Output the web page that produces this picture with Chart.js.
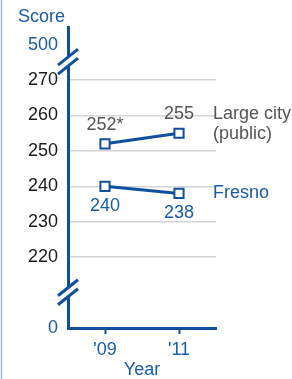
<!DOCTYPE html>
<html>
<head>
<meta charset="utf-8">
<script src="https://cdn.jsdelivr.net/npm/chart.js@4/dist/chart.umd.min.js"></script>
<style>
    html, body { margin: 0; padding: 0; background: #fff; }
    canvas { display: block; }
</style>
</head>
<body>
<canvas id="myChart" width="292" height="379"></canvas>
<script>
// données
const years = ["'09", "'11"];
const largeCity = [252, 255];
const largeCityNotes = ['*', ''];
const fresno = [240, 238];
const yTicks = [200, 220, 230, 240, 250, 260, 270, 280];
const yTickLabels = ['0', '220', '230', '240', '250', '260', '270', '500'];

const BLUE = '#0f4f9e';
const TEXT_BLUE = '#1a5ca8';
const GREY = '#555555';
const FONT = "'Liberation Sans', Arial, sans-serif";

const decorPlugin = {
    id: 'decor',
    afterDraw(chart) {
        const ctx = chart.ctx;
        const area = chart.chartArea;
        const y = chart.scales.y;
        ctx.save();

        // cadre à gauche
        ctx.strokeStyle = '#9db6d6';
        ctx.lineWidth = 1.5;
        ctx.beginPath();
        ctx.moveTo(1.5, 0);
        ctx.lineTo(1.5, chart.height);
        ctx.stroke();

        // titre "Score"
        ctx.font = '18px ' + FONT;
        ctx.fillStyle = TEXT_BLUE;
        ctx.textAlign = 'right';
        ctx.textBaseline = 'middle';
        ctx.fillText('Score', 65, 17);

        // coupures de l'axe
        [275.2, 210.1].forEach(v => {
            const cx = area.left;
            const cy = y.getPixelForValue(v);
            const dx = 10, dy = 8, gap = 4.5;
            ctx.fillStyle = '#fff';
            ctx.beginPath();
            ctx.moveTo(cx - dx, cy - gap + dy);
            ctx.lineTo(cx + dx, cy - gap - dy);
            ctx.lineTo(cx + dx, cy + gap - dy);
            ctx.lineTo(cx - dx, cy + gap + dy);
            ctx.closePath();
            ctx.fill();
            ctx.strokeStyle = BLUE;
            ctx.lineWidth = 3;
            [-gap, gap].forEach(g => {
                ctx.beginPath();
                ctx.moveTo(cx - dx, cy + g + dy);
                ctx.lineTo(cx + dx, cy + g - dy);
                ctx.stroke();
            });
        });

        // étiquettes des valeurs
        ctx.textAlign = 'center';
        const lc = chart.getDatasetMeta(0).data;
        const fr = chart.getDatasetMeta(1).data;
        lc.forEach((pt, i) => {
            ctx.fillStyle = GREY;
            ctx.fillText(largeCity[i] + largeCityNotes[i], pt.x, pt.y - 19);
        });
        fr.forEach((pt, i) => {
            ctx.fillStyle = TEXT_BLUE;
            ctx.fillText(String(fresno[i]), pt.x, pt.y + 20);
        });

        // noms des séries
        ctx.textAlign = 'left';
        const lastLc = lc[lc.length - 1];
        const lastFr = fr[fr.length - 1];
        ctx.fillStyle = GREY;
        ctx.fillText('Large city', area.right - 3, lastLc.y - 19);
        ctx.fillText('(public)', area.right - 3, lastLc.y + 1);
        ctx.fillStyle = TEXT_BLUE;
        ctx.fillText('Fresno', area.right - 3, lastFr.y);

        ctx.restore();
    }
};

const ctx = document.getElementById('myChart').getContext('2d');

const lineStyle = {
    borderColor: BLUE,
    borderWidth: 3,
    pointStyle: 'rect',
    pointRadius: 6.5,
    pointBorderWidth: 2,
    pointBorderColor: BLUE,
    pointBackgroundColor: '#fff',
    tension: 0
};

new Chart(ctx, {
    type: 'line',
    data: {
        labels: years,
        datasets: [
            Object.assign({ label: 'Large city (public)', data: largeCity }, lineStyle),
            Object.assign({ label: 'Fresno', data: fresno }, lineStyle)
        ]
    },
    options: {
        responsive: false,
        devicePixelRatio: 1,
        animation: false,
        layout: { padding: { left: 0, right: 76, top: 27, bottom: 0 } },
        plugins: {
            legend: { display: false },
            tooltip: { enabled: false }
        },
        scales: {
            x: {
                offset: true,
                border: { color: BLUE, width: 3 },
                grid: {
                    offset: false,
                    drawOnChartArea: false,
                    drawTicks: true,
                    tickLength: 6,
                    tickColor: BLUE,
                    tickWidth: 2
                },
                ticks: {
                    color: TEXT_BLUE,
                    font: { size: 18, family: FONT },
                    padding: 5,
                    maxRotation: 0
                },
                title: {
                    display: true,
                    text: 'Year',
                    color: TEXT_BLUE,
                    font: { size: 18, family: FONT, lineHeight: 1 },
                    padding: { top: 0, bottom: 0 }
                },
                afterFit: function(scale) {
                    scale.height = 51;
                }
            },
            y: {
                min: 200,
                max: 285,
                border: { color: BLUE, width: 3 },
                grid: {
                    drawTicks: false,
                    color: function(c) {
                        const v = c.tick ? c.tick.value : null;
                        return (v >= 220 && v <= 270) ? '#d4d4d4' : 'rgba(0,0,0,0)';
                    },
                    lineWidth: 1.5
                },
                afterBuildTicks: function(scale) {
                    scale.ticks = yTicks.map(v => ({ value: v }));
                },
                ticks: {
                    padding: 10,
                    font: { size: 18, family: FONT },
                    color: function(c) {
                        const v = c.tick.value;
                        return (v === 200 || v === 280) ? TEXT_BLUE : '#1a1a1a';
                    },
                    callback: function(value) {
                        const i = yTicks.indexOf(value);
                        return i >= 0 ? yTickLabels[i] : '';
                    }
                },
                afterFit: function(scale) {
                    scale.width = 68;
                }
            }
        }
    },
    plugins: [decorPlugin]
});
</script>
</body>
</html>
